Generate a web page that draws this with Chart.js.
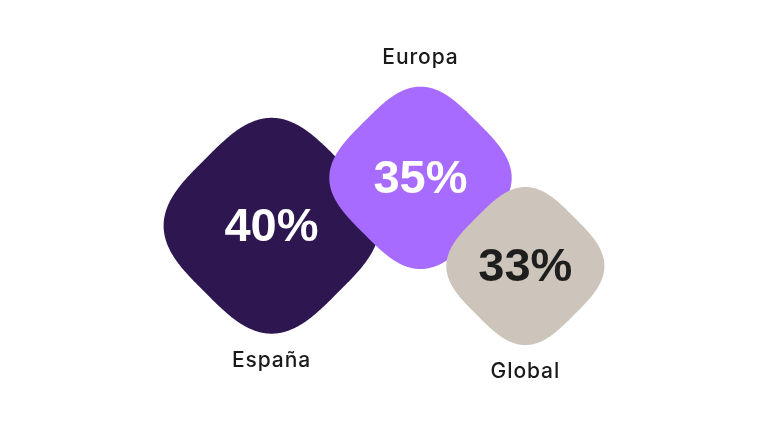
<!DOCTYPE html>
<html>
<head>
<meta charset="utf-8">
<script src="https://cdn.jsdelivr.net/npm/chart.js@4.4.1/dist/chart.umd.min.js"></script>
<style>
  html, body { margin: 0; padding: 0; background: #ffffff; }
  #wrap { width: 768px; height: 432px; position: relative; }
</style>
</head>
<body>
<div id="wrap"><canvas id="c"></canvas></div>
<script>
// ---- data ----
const categories = ['España', 'Europa', 'Global'];
const percentValues = [40, 35, 33];
const xValues = [35.2, 54.8, 68.6];       // horizontal position (0-100 scale)
const yValues = [47.7, 59.0, 38.2];       // vertical position (0-100 scale)
const sizeValues = [14.2, 12.0, 10.4];    // half-extent of each shape (x-scale units)

// ---- styles ----
const fillColors = ['#2e1650', '#a86bff', '#cdc4bc'];
const valueColors = ['#ffffff', '#ffffff', '#1e1e1e'];
const labelSide = ['bottom', 'top', 'bottom'];

function squirclePath(ctx, cx, cy, h, n) {
  // rounded diamond: superellipse rotated 45 degrees, tip distance = h
  const a = h / Math.pow(2, 0.5 - 1 / n);
  const steps = 720;
  ctx.beginPath();
  for (let i = 0; i <= steps; i++) {
    const t = (i / steps) * Math.PI * 2;
    const c = Math.cos(t), s = Math.sin(t);
    const u = a * Math.sign(c) * Math.pow(Math.abs(c), 2 / n);
    const v = a * Math.sign(s) * Math.pow(Math.abs(s), 2 / n);
    const x = cx + (u - v) / Math.SQRT2;
    const y = cy + (u + v) / Math.SQRT2;
    if (i === 0) ctx.moveTo(x, y); else ctx.lineTo(x, y);
  }
  ctx.closePath();
}

const shapePlugin = {
  id: 'shapes',
  afterDatasetsDraw(chart) {
    const ctx = chart.ctx;
    const meta = chart.getDatasetMeta(0);
    const xs = chart.scales.x;
    ctx.save();
    meta.data.forEach((el, i) => {
      const h = xs.getPixelForValue(sizeValues[i]) - xs.getPixelForValue(0);
      ctx.fillStyle = fillColors[i];
      squirclePath(ctx, el.x, el.y, h, 3.3);
      ctx.fill();
      ctx.fillStyle = valueColors[i];
      ctx.font = 'bold 47px "Liberation Sans", Arial, sans-serif';
      ctx.textAlign = 'center';
      ctx.textBaseline = 'middle';
      ctx.fillText(percentValues[i] + '%', el.x, el.y + 2);
    });
    meta.data.forEach((el, i) => {
      const h = xs.getPixelForValue(sizeValues[i]) - xs.getPixelForValue(0);
      ctx.fillStyle = '#1a1a1a';
      ctx.font = '500 21px Inter, "Noto Sans", sans-serif';
      ctx.letterSpacing = '0.9px';
      ctx.textAlign = 'center';
      ctx.textBaseline = 'middle';
      const off = h + 27;
      ctx.fillText(categories[i], el.x, labelSide[i] === 'top' ? el.y - off - 2 : el.y + off);
      ctx.letterSpacing = '0px';
    });
    ctx.restore();
  }
};

new Chart(document.getElementById('c'), {
  type: 'bubble',
  data: {
    labels: categories,
    datasets: [{
      data: categories.map((c, i) => ({ x: xValues[i], y: yValues[i], r: 1 })),
      backgroundColor: 'rgba(0,0,0,0)',
      borderWidth: 0
    }]
  },
  options: {
    responsive: true,
    maintainAspectRatio: false,
    animation: false,
    layout: { padding: 0 },
    plugins: { legend: { display: false }, tooltip: { enabled: false } },
    scales: {
      x: { type: 'linear', min: 0, max: 100, display: false },
      y: { type: 'linear', min: 0, max: 100, display: false }
    }
  },
  plugins: [shapePlugin]
});
</script>
</body>
</html>
